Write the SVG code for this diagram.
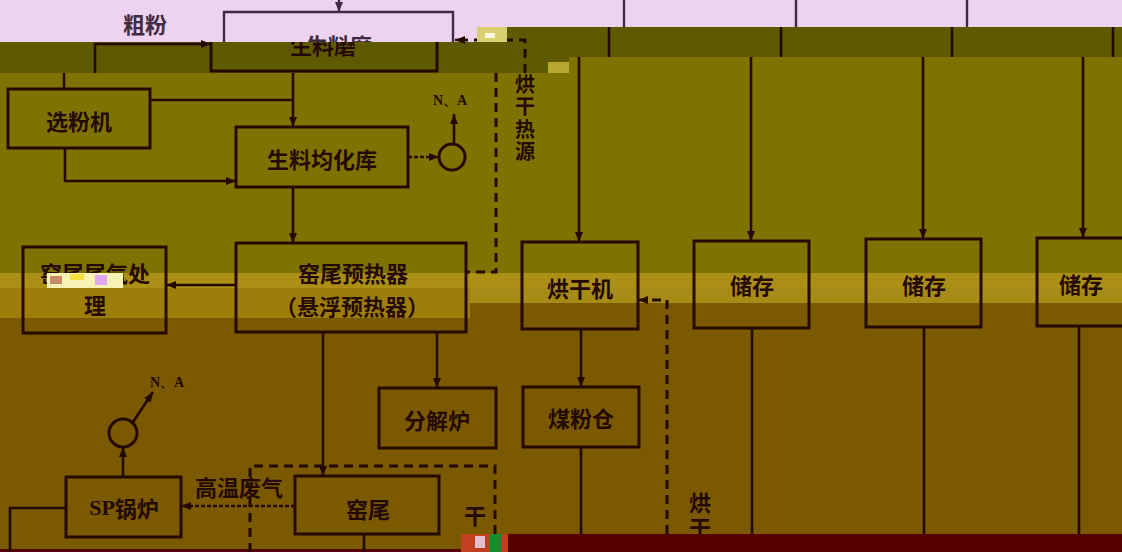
<svg xmlns="http://www.w3.org/2000/svg" width="1122" height="552" viewBox="0 0 1122 552">
<style>
.ln{fill:none;stroke:#240A02;stroke-width:2.6}
.pk{fill:none;stroke:#3F2C42;stroke-width:2.4}
.bx{fill:none;stroke:#240A02;stroke-width:3}
.dsh{fill:none;stroke:#240A02;stroke-width:3;stroke-dasharray:9 6}
.dot{fill:none;stroke:#240A02;stroke-width:2.4;stroke-dasharray:4 2}
.t{font-family:"Noto Sans CJK SC","Noto Sans CJK TC",sans-serif;font-weight:bold;font-size:22px;fill:#240A02;text-anchor:middle;dominant-baseline:central}
.tv{font-family:"Noto Sans CJK SC","Noto Sans CJK TC",sans-serif;font-weight:bold;font-size:20px;fill:#240A02;writing-mode:vertical-rl;letter-spacing:2.5px}
.tp{font-family:"Noto Sans CJK SC",sans-serif;font-weight:bold;font-size:22px;fill:#3F2C42;text-anchor:middle;dominant-baseline:central}
.na{font-family:"Liberation Serif",serif;font-weight:bold;font-size:14px;fill:#240A02;text-anchor:middle;dominant-baseline:central}
</style>
<defs>
<marker id="ah" viewBox="0 0 10 10" refX="10" refY="5" markerWidth="10" markerHeight="10" orient="auto" markerUnits="userSpaceOnUse"><path d="M0,1 L10,5 L0,9 z" fill="#240A02"/></marker>
<marker id="ahp" viewBox="0 0 10 10" refX="10" refY="5" markerWidth="10" markerHeight="10" orient="auto" markerUnits="userSpaceOnUse"><path d="M0,1 L10,5 L0,9 z" fill="#3F2C42"/></marker>
<clipPath id="cpPink"><rect x="0" y="0" width="477" height="42"/></clipPath>
<clipPath id="cpDark"><rect x="0" y="42" width="477" height="31"/></clipPath>
<clipPath id="cpBot"><rect x="0" y="0" width="1122" height="534"/></clipPath>
</defs>

<g id="background">
<rect x="0" y="0" width="1122" height="552" fill="#7A5900"/>
<rect x="0" y="0" width="1122" height="273" fill="#7E7200"/>
<rect x="0" y="0" width="477" height="42" fill="#EDD3EF"/>
<rect x="477" y="0" width="645" height="27" fill="#EDD3EF"/>
<rect x="0" y="42" width="477" height="31" fill="#5E5A00"/>
<rect x="477" y="27" width="92" height="46" fill="#5E5A00"/>
<rect x="569" y="27" width="553" height="30" fill="#5E5A00"/>
<rect x="0" y="273" width="1122" height="15" fill="#AC9016"/>
<rect x="470" y="288" width="652" height="15" fill="#A68C16"/>
<rect x="0" y="288" width="470" height="30" fill="#9E7E0A"/>
<rect x="0" y="549" width="461" height="3" fill="#560000"/>
<rect x="461" y="534" width="661" height="18" fill="#560000"/>
</g>

<g id="connectors">
<path class="pk" d="M339,0 V12" marker-end="url(#ahp)"/>
<path class="pk" d="M624,0 V27 M796,0 V27 M967,0 V27"/>
<path class="ln" d="M95,73 V44 H211" marker-end="url(#ah)"/>
<path class="ln" d="M609,27 V57 M781,27 V57 M952,27 V57 M1113,27 V57"/>
<path class="dsh" d="M525,73 V40 H456"/>
<path class="ln" d="M462,40 H455" marker-end="url(#ah)"/>
<path class="ln" d="M64,73 V89"/>
<path class="ln" d="M150,100 H293"/>
<path class="ln" d="M293,73 V127" marker-end="url(#ah)"/>
<path class="ln" d="M65,148 V181 H236" marker-end="url(#ah)"/>
<path class="dot" d="M408,157 H439" marker-end="url(#ah)"/>
<path class="ln" d="M454,144 V114" marker-end="url(#ah)"/>
<path class="dsh" d="M496,73 V272 H466"/>
<path class="ln" d="M293,187 V243" marker-end="url(#ah)"/>
<path class="ln" d="M236,285 H166" marker-end="url(#ah)"/>
<path class="ln" d="M323,332 V476" marker-end="url(#ah)"/>
<path class="ln" d="M437,332 V388" marker-end="url(#ah)"/>
<path class="ln" d="M133,422 L153,392" marker-end="url(#ah)"/>
<path class="ln" d="M123,477 V447" marker-end="url(#ah)"/>
<path class="ln" d="M66,508 H10 V552"/>
<path class="dot" d="M295,506 H181" marker-end="url(#ah)"/>
<path class="dsh" d="M250,552 V466 H495 V552"/>
<path class="ln" d="M364,534 V552"/>
<path class="ln" d="M579,57 V242" marker-end="url(#ah)"/>
<path class="ln" d="M751,57 V241" marker-end="url(#ah)"/>
<path class="ln" d="M923,57 V239" marker-end="url(#ah)"/>
<path class="ln" d="M1083,57 V238" marker-end="url(#ah)"/>
<path class="ln" d="M581,329 V387" marker-end="url(#ah)"/>
<path class="ln" d="M581,447 V534"/>
<path class="dsh" d="M667,534 V300 H645"/>
<path class="ln" d="M646,300 H638" marker-end="url(#ah)"/>
<path class="ln" d="M752,328 V534 M924,327 V534 M1079,326 V534"/>
</g>

<g id="node-cufen"><text class="tp" x="145" y="23">粗粉</text></g>

<g id="node-shengliaomo">
<path class="pk" d="M224,42 V12 H453 V42"/>
<text class="tp" x="339" y="44" clip-path="url(#cpPink)">生料磨</text>
<path class="bx" d="M211,42 V71 H437 V42"/>
<text class="t" x="323" y="44" clip-path="url(#cpDark)">生料磨</text>
</g>

<g id="node-xuanfenji"><rect class="bx" x="8" y="89" width="142" height="59"/><text class="t" x="79" y="120">选粉机</text></g>

<g id="node-junhuaku"><rect class="bx" x="236" y="127" width="172" height="60"/><text class="t" x="322" y="158">生料均化库</text></g>

<g id="node-na1"><circle cx="452" cy="157" r="13" fill="none" stroke="#240A02" stroke-width="3"/><text class="na" x="450" y="100">N、A</text></g>

<g id="label-honggan-reyuan"><text class="tv" x="525" y="74">烘干热源</text></g>

<g id="node-yureqi"><rect class="bx" x="236" y="243" width="230" height="89"/><text class="t" x="353" y="272">窑尾预热器</text><text class="t" x="352" y="305">（悬浮预热器）</text></g>

<g id="node-weiqi"><rect class="bx" x="23" y="247" width="143" height="86"/><text class="t" x="95" y="272">窑尾尾气处</text><text class="t" x="95" y="304">理</text></g>

<g id="node-fenjielu"><rect class="bx" x="379" y="388" width="117" height="60"/><text class="t" x="437" y="419">分解炉</text></g>

<g id="node-na2"><circle cx="123" cy="433" r="14" fill="none" stroke="#240A02" stroke-width="3"/><text class="na" x="167" y="382">N、A</text></g>

<g id="node-sp"><rect class="bx" x="66" y="477" width="115" height="60"/><text class="t" x="124" y="507"><tspan font-family="Liberation Serif,serif">SP</tspan>锅炉</text></g>

<g id="label-gaowen"><text class="t" x="239" y="486">高温废气</text></g>

<g id="node-yaowei"><rect class="bx" x="295" y="476" width="144" height="58"/><text class="t" x="368" y="508">窑尾</text></g>

<g id="label-gan"><text class="t" x="475" y="514" clip-path="url(#cpBot)">干</text></g>

<g id="node-hongganji"><rect class="bx" x="522" y="242" width="116" height="87"/><text class="t" x="580" y="287">烘干机</text></g>
<g id="node-chucun1"><rect class="bx" x="694" y="241" width="115" height="87"/><text class="t" x="752" y="284">储存</text></g>
<g id="node-chucun2"><rect class="bx" x="866" y="239" width="115" height="88"/><text class="t" x="924" y="284">储存</text></g>
<g id="node-chucun3"><rect class="bx" x="1037" y="238" width="90" height="88"/><text class="t" x="1081" y="283">储存</text></g>
<g id="node-meifencang"><rect class="bx" x="523" y="387" width="116" height="60"/><text class="t" x="581" y="417">煤粉仓</text></g>

<g id="label-honggan2"><text class="tv" x="700" y="492" style="font-size:22px;letter-spacing:3px" clip-path="url(#cpBot)">烘干</text></g>

<g id="glitches">
<rect x="47" y="273" width="76" height="15" fill="#F6F2B4"/>
<rect x="50" y="276" width="12" height="8" fill="#C98A6A"/>
<rect x="70" y="274" width="14" height="6" fill="#F2E040"/>
<rect x="95" y="275" width="12" height="10" fill="#E0A8F0"/>
<rect x="477" y="27" width="30" height="15" fill="#D8D070"/>
<rect x="485" y="33" width="10" height="5" fill="#F8F8E0"/>
<rect x="548" y="62" width="21" height="11" fill="#B8A830"/>
<rect x="461" y="534" width="47" height="18" fill="#C04020"/>
<rect x="475" y="536" width="10" height="12" fill="#E0C0D0"/>
<rect x="490" y="534" width="12" height="18" fill="#1A8A30"/>
</g>
</svg>
